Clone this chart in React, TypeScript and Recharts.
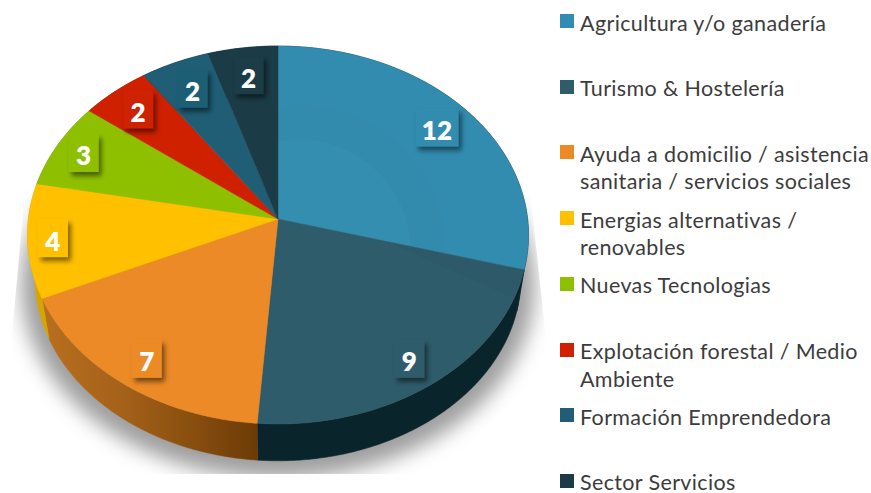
import { PieChart, Pie, Legend } from 'recharts';

const CATEGORIES = [
  'Agricultura y/o ganadería',
  'Turismo & Hostelería',
  'Ayuda a domicilio / asistencia sanitaria / servicios sociales',
  'Energias alternativas / renovables',
  'Nuevas Tecnologias',
  'Explotación forestal / Medio Ambiente',
  'Formación Emprendedora',
  'Sector Servicios',
];
const VALUES = [12, 9, 7, 4, 3, 2, 2, 2];
const COLORS = ['#318cb0', '#2e5c6b', '#ec8a27', '#ffc000', '#8fc000', '#cf2000', '#1f5e75', '#1b3c46'];
const TOP_FILLS = ['url(#blueBands)', 'url(#tealBand)', ...COLORS.slice(2)];
const SIDE_COLORS = ['#0a242c', '#0a242c', 'url(#orangeSide)', '#d6a600', '#6b9000', '#8a1500', '#0a242c', '#0a242c'];
const LABEL_RADII = [0.835, 0.86, 0.86, 0.9, 0.88, 0.85, 0.82, 0.827];

const table = CATEGORIES.map((name, i) => ({ name, value: VALUES[i], fill: TOP_FILLS[i] }));
const sideTable = CATEGORIES.map((name, i) => ({ name, value: VALUES[i], fill: SIDE_COLORS[i] }));
const shadowTable = [{ name: 'shadow', value: VALUES.reduce((a, b) => a + b, 0), fill: '#000' }];

// the pie is a tilted disc, so angles from the library get pushed through a small perspective
const KX = 0.9984;
const KY = 0.7504;
const PERSP = 0.0847;
const DEPTH = 0.172;
const BOTTOM_SCALE = 0.97;

function project(cx: number, cy: number, R: number, angle: number, r = 1, s = 1, dy = 0) {
  const a = ((90 - angle) * Math.PI) / 180;
  const u = Math.sin(a) * r;
  const v = Math.cos(a) * r;
  const w = 1 + PERSP * v;
  return [cx + (s * KX * R * u) / w, cy + dy * R - (s * KY * R * v) / w];
}

function rim(p: any, s = 1, dy = 0) {
  const pts: number[][] = [];
  const steps = Math.max(2, Math.ceil(Math.abs(p.endAngle - p.startAngle) * 2));
  for (let i = 0; i <= steps; i++) {
    const ang = p.startAngle + ((p.endAngle - p.startAngle) * i) / steps;
    pts.push(project(p.cx, p.cy, p.outerRadius, ang, 1, s, dy));
  }
  return pts;
}

const toPath = (pts: number[][]) => 'M' + pts.map((q) => `${q[0].toFixed(2)},${q[1].toFixed(2)}`).join('L') + 'Z';

function TopSlice(p: any) {
  const d = toPath([[p.cx, p.cy], ...rim(p)]);
  return <path d={d} fill={p.fill} stroke={p.fill} strokeWidth={0.5} />;
}

function SideSlice(p: any) {
  const d = toPath([...rim(p), ...rim(p, BOTTOM_SCALE, DEPTH).reverse()]);
  return <path d={d} fill={p.fill} stroke={p.fill} strokeWidth={0.5} />;
}

function ShadowSlice(p: any) {
  const d = toPath(rim(p, 1.025, DEPTH + 0.025));
  return (
    <g clipPath="url(#shadowClip)">
      <path d={d} fill="#000" fillOpacity={0.38} filter="url(#shadowBlur)" />
    </g>
  );
}

function ValueLabel(p: any) {
  const i = CATEGORIES.indexOf(p.name);
  const [x, y] = project(p.cx, p.cy, p.outerRadius, p.midAngle, LABEL_RADII[i]);
  const w = String(p.value).length > 1 ? 43 : 30;
  return (
    <g>
      <rect x={x - w / 2} y={y - 19.5} width={w} height={38} fill={COLORS[i]} filter="url(#boxShadow)" />
      <text
        x={x}
        y={y + 2}
        textAnchor="middle"
        dominantBaseline="central"
        fill="#fff"
        style={{ fontFamily: 'Lato, sans-serif', fontWeight: 800, fontSize: 26 }}
      >
        {p.value}
      </text>
    </g>
  );
}

function LegendList() {
  return (
    <div style={{ position: 'relative', width: 311, height: 493 }}>
      {CATEGORIES.map((name, i) => {
        const wrapped = name.length > 28;
        return (
          <div key={name} style={{ position: 'absolute', left: 0, top: i * 65.7, width: 311 }}>
            <span
              style={{ position: 'absolute', left: 0, top: 14, width: 14, height: 14, background: COLORS[i] }}
            />
            <div
              style={{
                position: 'absolute',
                left: 20,
                top: wrapped ? 9.5 : 11.5,
                width: 291,
                fontFamily: 'Lato, sans-serif',
                fontSize: 21.5,
                lineHeight: wrapped ? '27.5px' : '23.5px',
                letterSpacing: 0.36,
                color: '#3c3c3c',
              }}
            >
              {name}
            </div>
          </div>
        );
      })}
    </div>
  );
}

export default function App() {
  return (
    <div style={{ position: 'absolute', left: 0, top: 0, width: 871, height: 493, background: '#fff' }}>
      <PieChart width={871} height={493} margin={{ top: 0, right: 0, bottom: 0, left: 0 }}>
        <defs>
          <filter id="shadowBlur" x="-20%" y="-20%" width="140%" height="140%">
            <feGaussianBlur stdDeviation="10" />
          </filter>
          <filter id="boxShadow" x="-40%" y="-40%" width="190%" height="190%">
            <feDropShadow dx="3" dy="4" stdDeviation="2.5" floodColor="#000" floodOpacity="0.5" />
          </filter>
          <clipPath id="shadowClip">
            <polygon points="25,190 12,335 12,474 545,474 545,330 530,190" />
          </clipPath>
          <linearGradient id="orangeSide" gradientUnits="userSpaceOnUse" x1="46" y1="0" x2="257" y2="0">
            <stop offset="0" stopColor="#b86e1e" />
            <stop offset="0.35" stopColor="#a5621a" />
            <stop offset="0.65" stopColor="#8c5110" />
            <stop offset="1" stopColor="#6c3b06" />
          </linearGradient>
          <radialGradient id="blueBands" gradientUnits="userSpaceOnUse" cx="300" cy="250" r="145">
            <stop offset="0" stopColor="#338eb0" />
            <stop offset="0.76" stopColor="#338eb0" />
            <stop offset="0.76" stopColor="#328aad" />
            <stop offset="1" stopColor="#328aad" />
            <stop offset="1" stopColor="#318cb0" />
          </radialGradient>
          <linearGradient id="tealBand" gradientUnits="userSpaceOnUse" x1="468" y1="278" x2="476" y2="260">
            <stop offset="0" stopColor="#2e5c6b" />
            <stop offset="0" stopColor="#2e5969" />
          </linearGradient>
        </defs>
        <Pie
          data={shadowTable}
          dataKey="value"
          nameKey="name"
          cx={278}
          cy={219}
          outerRadius={250}
          startAngle={90}
          endAngle={-270}
          legendType="none"
          shape={ShadowSlice}
          isAnimationActive={false}
        />
        <Pie
          data={sideTable}
          dataKey="value"
          nameKey="name"
          cx={278}
          cy={219}
          outerRadius={250}
          startAngle={90}
          endAngle={-270}
          legendType="none"
          shape={SideSlice}
          isAnimationActive={false}
        />
        <Pie
          data={table}
          dataKey="value"
          nameKey="name"
          cx={278}
          cy={219}
          outerRadius={250}
          startAngle={90}
          endAngle={-270}
          shape={TopSlice}
          label={ValueLabel}
          labelLine={false}
          isAnimationActive={false}
        />
        <Legend
          content={<LegendList />}
          layout="vertical"
          verticalAlign="middle"
          align="right"
          wrapperStyle={{ position: 'absolute', left: 560, top: 0, width: 311 }}
        />
      </PieChart>
    </div>
  );
}
